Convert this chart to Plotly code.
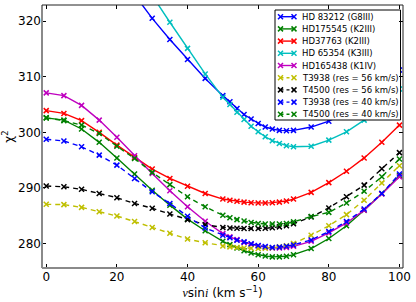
import plotly.graph_objects as go

# ---------------- data ----------------
vsini = [0, 5, 10, 15, 20, 25, 30, 35, 40, 45, 50, 52, 54, 56, 58, 60, 62, 64, 66, 68, 70, 75, 80, 85, 90, 95, 100]

hd83212 = [338.0, 337.2, 335.4, 332.6, 329.0, 324.8, 320.5, 316.7, 313.1, 309.7, 306.6, 305.5, 304.3, 303.2, 302.4, 301.6,
           300.95, 300.6, 300.35, 300.3, 300.35, 300.95, 302.0, 303.5, 305.5, 308.1, 311.2]
hd175545 = [302.6, 302.2, 300.6, 298.2, 295.4, 292.5, 289.6, 286.9, 284.4, 282.3, 280.4, 279.8, 279.2, 278.7, 278.3, 278.0,
            277.75, 277.6, 277.6, 277.7, 278.0, 279.1, 280.9, 283.2, 286.0, 289.0, 292.2]
hd37763 = [303.9, 303.4, 302.1, 300.0, 297.7, 295.5, 293.4, 291.7, 290.3, 289.0, 288.0, 287.8, 287.6, 287.45, 287.35, 287.3,
           287.3, 287.35, 287.45, 287.65, 288.0, 289.2, 290.95, 293.0, 295.4, 298.2, 301.3]
hd65354 = [345.0, 344.0, 342.0, 338.5, 334.2, 329.5, 324.6, 319.8, 315.1, 310.5, 306.3, 305.0, 303.6, 302.3, 301.1, 300.1,
           299.2, 298.5, 298.0, 297.6, 297.4, 297.5, 298.6, 300.1, 302.2, 304.8, 307.8]
hd165438 = [307.1, 306.6, 304.85, 302.2, 299.1, 295.8, 292.6, 289.5, 286.6, 284.0, 281.8, 281.2, 280.7, 280.2, 279.85, 279.55,
            279.3, 279.2, 279.2, 279.3, 279.5, 280.4, 281.9, 283.7, 286.0, 288.9, 292.0]
t3938_56 = [287.05, 287.0, 286.5, 285.7, 284.95, 283.95, 282.9, 281.85, 280.8, 280.15, 279.55, 279.4, 279.3, 279.2, 279.15, 279.1,
            279.15, 279.25, 279.4, 279.6, 280.0, 281.5, 283.2, 285.2, 287.8, 290.9, 294.0]
t4500_56 = [290.35, 290.2, 289.75, 289.0, 288.25, 287.2, 286.35, 285.3, 284.3, 283.4, 282.9, 282.8, 282.75, 282.7, 282.7, 282.7,
            282.75, 282.85, 283.0, 283.2, 283.55, 284.8, 286.4, 288.4, 290.5, 293.45, 296.35]
t3938_40 = [298.75, 298.45, 297.4, 295.9, 294.1, 291.7, 289.3, 287.2, 284.9, 282.8, 281.5, 281.05, 280.6, 280.3, 279.95, 279.65,
            279.45, 279.3, 279.35, 279.5, 279.75, 280.65, 282.15, 283.95, 286.2, 289.0, 292.5]
t4500_40 = [302.6, 302.1, 301.3, 299.8, 297.5, 295.3, 292.8, 290.6, 288.4, 286.6, 285.1, 284.65, 284.3, 284.05, 283.8, 283.6,
            283.5, 283.5, 283.5, 283.6, 283.9, 284.85, 285.6, 287.3, 289.4, 292.0, 295.2]

names = ["HD 83212 (G8III)", "HD175545 (K2III)", "HD37763 (K2III)", "HD 65354 (K3III)", "HD165438 (K1IV)",
         "T3938 (res = 56 km/s)", "T4500 (res = 56 km/s)", "T3938 (res = 40 km/s)", "T4500 (res = 40 km/s)"]
series = [hd83212, hd175545, hd37763, hd65354, hd165438, t3938_56, t4500_56, t3938_40, t4500_40]

x_ticks = [0, 20, 40, 60, 80, 100]
y_ticks = [280, 290, 300, 310, 320]

# ---------------- style ----------------
colors = ["#0000ff", "#008000", "#ff0000", "#00bfbf", "#bf00bf", "#bfbf00", "#000000", "#0000ff", "#008000"]
dashes = ["solid"] * 5 + ["5px,4px"] * 4
W, H = 416, 302
ML, MR, MT, MB = 42, 13, 5, 34
LW = 1.4

fig = go.Figure()
for name, ys, c, d in zip(names, series, colors, dashes):
    fig.add_trace(go.Scatter(
        x=vsini, y=ys, mode="lines+markers", name=name, showlegend=False,
        line=dict(color=c, width=LW, dash=d),
        marker=dict(symbol="x-thin", size=5, line=dict(color=c, width=1.5), color=c),
    ))

# ---- custom legend (drawn in pixel space on an overlay axis) ----
px_x0, px_x1 = ML, W - MR
px_top, px_bot = MT, H - MB
bx0, bx1, by0, by1 = 275, 400.5, 10, 120
row0, row_gap = 16.7, 12.2
samp_x0, samp_x1, text_x = 280.5, 294, 300

# legend frame: a filled polygon on the overlay axis so it covers the curves
fig.add_trace(go.Scatter(
    x=[bx0, bx1, bx1, bx0, bx0], y=[by0, by0, by1, by1, by0], xaxis="x3", yaxis="y3",
    mode="lines", fill="toself", fillcolor="white", line=dict(color="black", width=1),
    showlegend=False, hoverinfo="skip",
))
annotations = []
for i, (name, c, d) in enumerate(zip(names, colors, dashes)):
    ry = row0 + row_gap * i
    fig.add_trace(go.Scatter(
        x=[samp_x0, samp_x1], y=[ry, ry], xaxis="x3", yaxis="y3", mode="lines+markers",
        showlegend=False, hoverinfo="skip",
        line=dict(color=c, width=LW, dash="3px,3px" if d != "solid" else "solid"),
        marker=dict(symbol="x-thin", size=5, line=dict(color=c, width=1.5), color=c),
    ))
    annotations.append(dict(
        x=text_x, y=ry, xref="x3", yref="y3", text=name, showarrow=False,
        xanchor="left", yanchor="middle", font=dict(family="DejaVu Sans", size=8.5, color="black"),
    ))

shapes = [
    dict(type="line", xref="paper", yref="paper", x0=0, x1=0, y0=0, y1=1, line=dict(color="#8a8a8a", width=2), layer="above"),
    dict(type="line", xref="paper", yref="paper", x0=0, x1=1, y0=0, y1=0, line=dict(color="#8a8a8a", width=2), layer="above"),
    dict(type="line", xref="paper", yref="paper", x0=0, x1=1, y0=1, y1=1, line=dict(color="#222", width=1), layer="above"),
    dict(type="line", xref="paper", yref="paper", x0=1, x1=1, y0=0, y1=1, line=dict(color="#222", width=1), layer="above"),
]

tickfont = dict(family="DejaVu Sans", size=12, color="black")
fig.update_layout(
    width=W, height=H,
    margin=dict(l=ML, r=MR, t=MT, b=MB),
    paper_bgcolor="white", plot_bgcolor="white",
    showlegend=False,
    xaxis=dict(range=[-1.2, 101], tickvals=x_ticks, ticks="inside", ticklen=4, tickcolor="black",
               mirror="ticks", showline=False, showgrid=False, zeroline=False, tickfont=tickfont,
               title=dict(text="<span style=\"font-family:'Liberation Serif';font-style:italic\">v</span>sin"
                               "<span style=\"font-family:'Liberation Serif';font-style:italic\">i</span> (km s<sup>\u22121</sup>)",
                          font=dict(family="DejaVu Sans", size=12, color="black"), standoff=2)),
    yaxis=dict(range=[275.6, 322.9], tickvals=y_ticks, ticks="inside", ticklen=4, tickcolor="black",
               mirror="ticks", showline=False, showgrid=False, zeroline=False, tickfont=tickfont,
               title=dict(text="\u03c7<sup>2</sup>", font=dict(family="DejaVu Sans", size=12, color="black"), standoff=4)),
    xaxis3=dict(overlaying="x", range=[px_x0, px_x1], visible=False, fixedrange=True),
    yaxis3=dict(overlaying="y", range=[px_bot, px_top], visible=False, fixedrange=True),
    shapes=shapes,
    annotations=annotations,
)

fig.write_html("out.html", config={"displayModeBar": False},
               post_script="document.body.style.margin='0';")
